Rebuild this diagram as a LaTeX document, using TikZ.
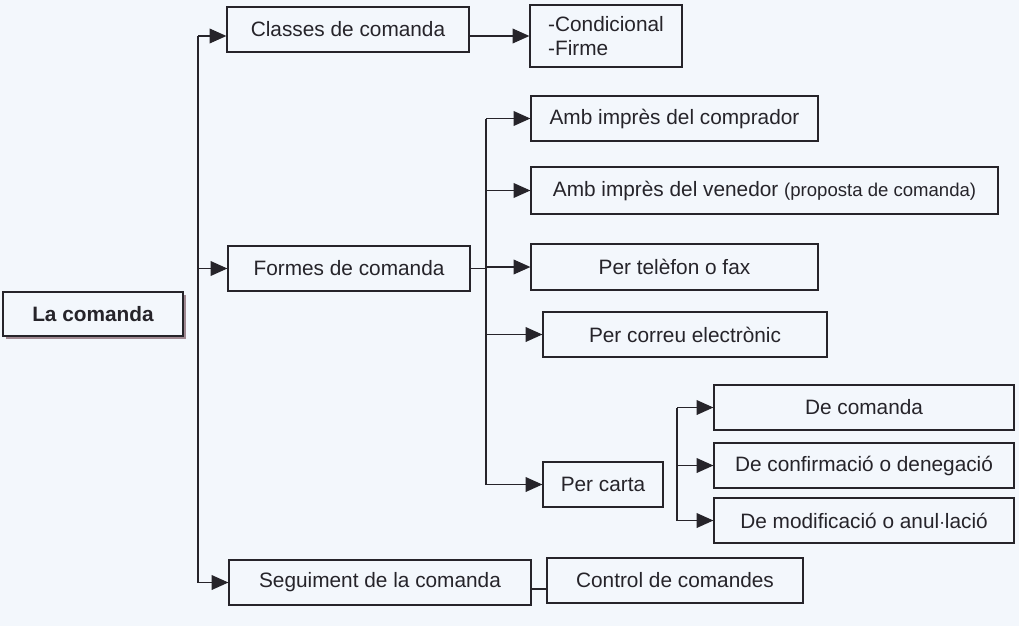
\documentclass[tikz,border=0pt]{standalone}
\usepackage{fontspec}
\setmainfont{Liberation Sans}
\usepackage{tikz}
\usetikzlibrary{arrows.meta,shadows}
\definecolor{PaperColor}{RGB}{243,247,252}
\definecolor{InkColor}{RGB}{38,36,42}
\definecolor{ShadowColor}{RGB}{140,110,120}
\newlength{\pxunit}
\setlength{\pxunit}{0.025cm}

\begin{document}
\begin{tikzpicture}[x=1\pxunit,y=-1\pxunit,
box/.style n args={2}{rectangle,draw=InkColor,line width=0.9pt,minimum width=#1\pxunit,minimum height=#2\pxunit,inner sep=0pt,text=InkColor,font=\fontsize{14.8}{17.5}\selectfont},
arr/.style={draw=InkColor,line width=0.8pt,-{Triangle[length=0.42cm,width=0.37cm]}},
lnk/.style={draw=InkColor,line width=0.8pt}]
\fill[PaperColor] (0,0) rectangle (1019,626);
% root and first level
\node[box={180}{44},fill=PaperColor,font=\fontsize{14.8}{17.5}\selectfont\bfseries,
   drop shadow={shadow xshift=0.07cm,shadow yshift=-0.07cm,fill=ShadowColor,opacity=0.8}](comanda) at(93,314) {La comanda};
\node[box={242}{45}](classes) at(348,29.5) {Classes de comanda};
\node[box={152}{62},align=left](tipus) at(606,36) {-Condicional\\-Firme};
\node[box={242}{45}](formes) at(349,268.5) {Formes de comanda};
\node[box={302}{45}](seguiment) at(380,582.5) {Seguiment de la comanda};
\node[box={256}{45}](control) at(675,580.5) {Control de comandes};
% formes de comanda
\node[box={287}{45}](comprador) at(674.5,118.5) {Amb impr\`es del comprador};
\node[box={467}{47}](venedor) at(764.5,190.5) {Amb impr\`es del venedor {\fontsize{13.2}{15}\selectfont(proposta de comanda)}};
\node[box={287}{46}](telefon) at(674.5,267) {Per tel\`efon o fax};
\node[box={284}{45}](correu) at(685,334.5) {Per correu electr\`onic};
\node[box={120}{45}](carta) at(603,484.5) {Per carta};
% per carta
\node[box={300}{45}](decomanda) at(864,407.5) {De comanda};
\node[box={300}{45}](confirmacio) at(864,465.5) {De confirmaci\'o o denegaci\'o};
\node[box={300}{45}](modificacio) at(864,520.5) {De modificaci\'o o anul$\cdot$laci\'o};
% connectors
\coordinate (tr) at (198,0);
\coordinate (fr) at (486,0);
\coordinate (cr) at (677,0);
\draw[lnk] (tr |- tipus.west) -- (tr |- seguiment.west);
\draw[arr] (tr |- tipus.west) -- (classes.west |- tipus.west);
\draw[arr] (classes.east |- tipus.west) -- (tipus.west);
\foreach \n in {formes,seguiment} {
   \draw[arr] (tr |- \n.west) -- (\n.west);
}
\draw[lnk] (formes.east) -- (fr |- formes.east);
\draw[lnk] (fr |- comprador.west) -- (fr |- carta.west);
\foreach \n in {comprador,venedor,telefon,correu,carta} {
   \draw[arr] (fr |- \n.west) -- (\n.west);
}
\draw[lnk] (cr |- decomanda.west) -- (cr |- modificacio.west);
\foreach \n in {decomanda,confirmacio,modificacio} {
   \draw[arr] (cr |- \n.west) -- (\n.west);
}
\draw[lnk] (seguiment.east |- 0,589) -- (control.west |- 0,589);
\end{tikzpicture}
\end{document}
